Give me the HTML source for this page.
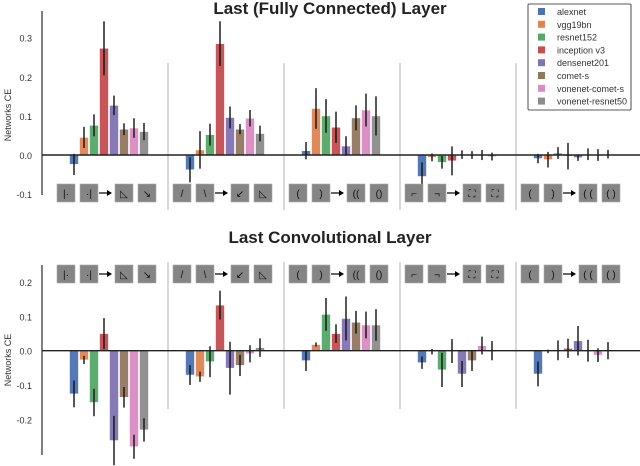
<!DOCTYPE html>
<html><head><meta charset="utf-8">
<style>
html,body{margin:0;padding:0;background:#fff;}
svg{display:block;font-family:"Liberation Sans","DejaVu Sans",sans-serif;}
</style></head>
<body>
<svg id="chart" width="640" height="466" viewBox="0 0 640 466"></svg>
<script>
const models = ["alexnet","vgg19bn","resnet152","inception v3","densenet201","comet-s","vonenet-comet-s","vonenet-resnet50"];
const colors = ["#4c72b0","#dd8452","#55a868","#c44e52","#8172b3","#937860","#da8bc3","#8c8c8c"];
const groups = ["g1","g2","g3","g4","g5"];
const topVals = [
 [-0.024,0.045,0.076,0.273,0.127,0.066,0.069,0.060],
 [-0.038,0.013,0.052,0.285,0.096,0.066,0.094,0.055],
 [0.011,0.119,0.100,0.071,0.023,0.095,0.115,0.100],
 [-0.055,-0.006,-0.019,-0.015,0.001,0.000,0.000,-0.004],
 [-0.009,-0.012,0.005,-0.003,-0.007,0.002,0.000,0.002]
];
const topErr = [
 [0.027,0.027,0.028,0.069,0.025,0.015,0.025,0.022],
 [0.032,0.048,0.028,0.057,0.028,0.013,0.021,0.020],
 [0.022,0.052,0.043,0.040,0.025,0.032,0.042,0.050],
 [0.036,0.010,0.016,0.037,0.011,0.010,0.013,0.010],
 [0.012,0.020,0.015,0.034,0.008,0.015,0.015,0.011]
];
const botVals = [
 [-0.126,-0.027,-0.151,0.050,-0.262,-0.136,-0.280,-0.231],
 [-0.071,-0.076,-0.032,0.133,-0.051,-0.043,-0.009,0.009],
 [-0.029,0.018,0.106,0.050,0.094,0.083,0.075,0.075],
 [-0.035,-0.003,-0.056,-0.001,-0.068,-0.029,0.015,0.000],
 [-0.068,-0.002,0.001,0.007,0.029,0.000,-0.013,0.000]
];
const botErr = [
 [0.039,0.012,0.040,0.045,0.072,0.030,0.035,0.034],
 [0.029,0.015,0.045,0.042,0.077,0.031,0.025,0.027],
 [0.030,0.006,0.048,0.027,0.064,0.033,0.039,0.046],
 [0.018,0.008,0.050,0.035,0.038,0.030,0.026,0.028],
 [0.036,0.005,0.029,0.028,0.043,0.032,0.020,0.025]
];
const topTicks = [0.3,0.2,0.1,0.0,-0.1];
const botTicks = [0.2,0.1,0.0,-0.1,-0.2];
const tickText = {"0.3":"0.3","0.2":"0.2","0.1":"0.1","0":"0.0","-0.1":"-0.1","-0.2":"-0.2"};
const iconGlyphs = [
 ["|·","·|","◺","↘"],
 ["/","\\","↙","◺"],
 ["(",")","((","()"],
 ["⌐","¬","⛶","⛶"],
 ["(",")","( (","( )"]
];

const svg = document.getElementById('chart');
const NS = "http://www.w3.org/2000/svg";
function mk(tag, attrs, parent){
  const e = document.createElementNS(NS, tag);
  for (const k in attrs) e.setAttribute(k, attrs[k]);
  (parent||svg).appendChild(e);
  return e;
}
function groupX(g){ return 74 + g*116; }
function barX(g,m){ return groupX(g) + m*10; }

function panel(cfg){
  const y = v => cfg.zero - v*cfg.unit;
  const pg = mk('g',{});
  
  
  const t = mk('text',{x:330,y:cfg.titleY,'text-anchor':'middle','font-size':17,'font-weight':'bold',fill:'#222'},pg);
  t.textContent = cfg.title;
  
  
  const ax = mk('line',{x1:42,x2:42,y1:cfg.axTop,y2:cfg.axBot,stroke:'#555','stroke-width':1.5},pg);
  
  
  cfg.ticks.forEach(v=>{
    const tx = mk('text',{x:32,y:y(v)+4,'text-anchor':'end','font-size':9,fill:'#333'},pg);
    tx.textContent = tickText[String(v)];
    
    
  });
  const yl = mk('text',{x:0,y:0,'text-anchor':'middle','font-size':9,fill:'#333',transform:`translate(11,${cfg.ylabelY}) rotate(-90)`},pg);
  yl.textContent = 'Networks CE';
  
  
  for (let g=1; g<groups.length; g++){
    const sx = groupX(g) - 22;
    const s = mk('line',{x1:sx,x2:sx,y1:cfg.sepTop,y2:cfg.sepBot,stroke:'#ccc','stroke-width':1.5},pg);
    
    
  }
  cfg.vals.forEach((row,g)=>{
    row.forEach((v,m)=>{
      const cx = barX(g,m);
      const y0 = y(0), y1 = y(v);
      const r = mk('rect',{x:cx-4.5,y:Math.min(y0,y1),width:9,height:Math.max(0.8,Math.abs(y1-y0)),fill:colors[m],stroke:'#fff','stroke-width':0.6,opacity:0.95},pg);
      
      
      const e = cfg.errs[g][m];
      const el = mk('line',{x1:cx,x2:cx,y1:y(v-e),y2:y(v+e),stroke:'#111','stroke-width':1.4},pg);
      
      
    });
  });
  const zl = mk('line',{x1:42,x2:640,y1:y(0),y2:y(0),stroke:'#222','stroke-width':1.4},pg);
  
  
  const offs = [-17,6,41,64];
  groups.forEach((gn,g)=>{
    const gx = groupX(g);
    offs.forEach((o,i)=>{
      const ix = gx + o;
      const rr = mk('rect',{x:ix,y:cfg.iconY,width:18,height:18,fill:'#858585',stroke:'#aaa','stroke-width':0.6},pg);
      
      
      const gt = mk('text',{x:ix+9,y:cfg.iconY+13,'text-anchor':'middle','font-size':10,fill:'#111'},pg);
      gt.textContent = iconGlyphs[g][i];
      
      
    });
    const ar = mk('line',{x1:gx+25,x2:gx+34,y1:cfg.iconY+9,y2:cfg.iconY+9,stroke:'#000','stroke-width':1.2},pg);
    
    
    const ah = mk('path',{d:`M${gx+33},${cfg.iconY+6} L${gx+38},${cfg.iconY+9} L${gx+33},${cfg.iconY+12} Z`,fill:'#000'},pg);
    
    
  });
}

panel({name:'top-panel',title:'Last (Fully Connected) Layer',titleY:14,zero:155,unit:391,axTop:11,axBot:195,
  ticks:topTicks,ylabelY:115,sepTop:63,sepBot:210,vals:topVals,errs:topErr,iconY:184});
panel({name:'bottom-panel',title:'Last Convolutional Layer',titleY:243,zero:350.7,unit:343,axTop:265,axBot:455,
  ticks:botTicks,ylabelY:360,sepTop:262,sepBot:409,vals:botVals,errs:botErr,iconY:265});

const lg = mk('g',{});


const lb = mk('rect',{x:528,y:4,width:103,height:106,fill:'#fff',stroke:'#222','stroke-width':0.8,rx:1},lg);


models.forEach((m,i)=>{
  const yy = 12 + i*12.8;
  const sw = mk('rect',{x:538,y:yy-4,width:7,height:7,fill:colors[i]},lg);
  
  
  const tx = mk('text',{x:557,y:yy+3,'font-size':9,fill:'#333'},lg);
  tx.textContent = m;
  
  
});
</script>
</body></html>
